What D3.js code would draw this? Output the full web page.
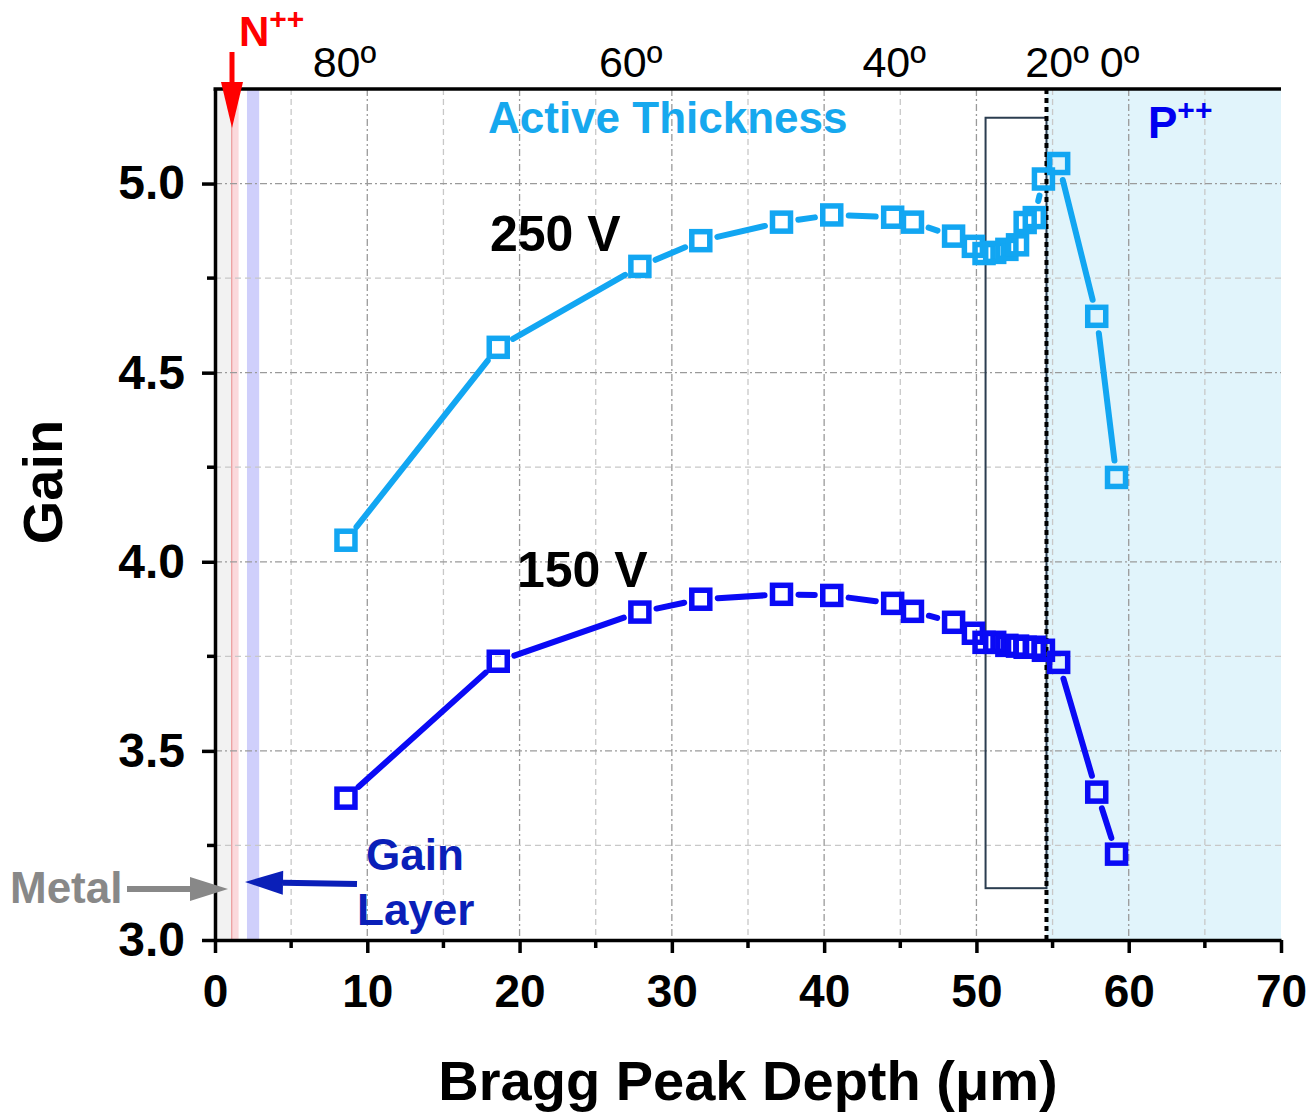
<!DOCTYPE html>
<html>
<head>
<meta charset="utf-8">
<script src="https://cdn.jsdelivr.net/npm/d3@7"></script>
<style>
  body { margin: 0; background: #fff; }
  text { font-family: "Liberation Sans", Arial, sans-serif; }
</style>
</head>
<body>
<div id="chart"></div>
<script>
// Bragg peak depth (um), shared by both bias voltages
const depth = [8.6, 18.6, 27.9, 31.9, 37.2, 40.5, 44.5, 45.8, 48.5, 49.8, 50.5, 51.2,
  52.0, 52.7, 53.2, 53.8, 54.4, 55.4, 57.9, 59.2];
const gain250 = [4.057, 4.567, 4.781, 4.849, 4.898, 4.917, 4.911, 4.898, 4.861, 4.834,
  4.815, 4.818, 4.826, 4.838, 4.897, 4.910, 5.012, 5.053, 4.649, 4.223];
const gain150 = [3.375, 3.737, 3.867, 3.901, 3.914, 3.911, 3.890, 3.869, 3.840, 3.811,
  3.787, 3.787, 3.779, 3.777, 3.774, 3.774, 3.766, 3.734, 3.391, 3.227];

// Top axis: incidence angle labels at their depths
const angleLabels = ['80º', '60º', '40º', '20º', '0º'];
const angleDepth = [8.5, 27.3, 44.6, 55.3, 59.4];

const xTicks = [0, 10, 20, 30, 40, 50, 60, 70];
const yTicks = [3.0, 3.5, 4.0, 4.5, 5.0];

// Layer regions (um)
const metalBand = [0, 1.1];
const nppBand = [1.1, 1.55];
const gainBand = [2.1, 2.9];
const activeEnd = 54.6;
const boxDepth = [50.6, 54.6];
const boxGain = [3.137, 5.174];

const width = 1311;
const height = 1113;

const svg = d3.select('#chart')
  .append('svg')
  .attr('width', width)
  .attr('height', height);

const x = d3.scaleLinear().domain([0, 70]).range([215, 1281]);
const y = d3.scaleLinear().domain([3, 5.25]).range([940, 89]);

// Background regions
const band = (range, color) => svg.append('rect')
  .attr('x', x(range[0])).attr('y', y(5.25))
  .attr('width', x(range[1]) - x(range[0])).attr('height', y(3) - y(5.25))
  .style('fill', color);
band([activeEnd, 70], '#e1f4fb');
band(metalBand, '#f2f2f2');
band(nppBand, '#fbd9dc');
band(gainBand, '#cfcffb');
svg.append('line')
  .attr('x1', x(nppBand[0])).attr('x2', x(nppBand[0]))
  .attr('y1', y(5.25)).attr('y2', y(3))
  .style('stroke', '#e88a8a').style('stroke-width', 1);

// Grid
const grid = svg.append('g').classed('grid', true);
d3.range(5, 70, 5).forEach(v => {
  const major = v % 10 === 0;
  grid.append('line')
    .attr('x1', x(v)).attr('x2', x(v))
    .attr('y1', y(5.25)).attr('y2', y(3))
    .style('stroke', major ? '#9a9a9a' : '#c8c8c8')
    .style('stroke-width', 1.3)
    .style('stroke-dasharray', major ? '7 3 2 3' : '6 4');
});
d3.range(3.25, 5.25, 0.25).forEach(v => {
  const major = Math.abs(v * 2 - Math.round(v * 2)) < 1e-6;
  grid.append('line')
    .attr('x1', x(0)).attr('x2', x(70))
    .attr('y1', y(v)).attr('y2', y(v))
    .style('stroke', major ? '#9a9a9a' : '#c8c8c8')
    .style('stroke-width', 1.3)
    .style('stroke-dasharray', major ? '7 3 2 3' : '6 4');
});

// Active thickness box and boundary
svg.append('rect')
  .attr('x', x(boxDepth[0])).attr('y', y(boxGain[1]))
  .attr('width', x(boxDepth[1]) - x(boxDepth[0]))
  .attr('height', y(boxGain[0]) - y(boxGain[1]))
  .style('fill', 'none')
  .style('stroke', '#2b3d50')
  .style('stroke-width', 2);
svg.append('line')
  .attr('x1', x(activeEnd)).attr('x2', x(activeEnd))
  .attr('y1', y(5.25)).attr('y2', y(3))
  .style('stroke', '#000')
  .style('stroke-width', 4)
  .style('stroke-dasharray', '5 4');

// Series: lines with gaps around markers, open square markers
const drawSeries = (vals, color) => {
  const pts = depth.map((d, i) => [x(d), y(vals[i])]);
  const g = svg.append('g');
  const gap = 17;
  for (let i = 0; i < pts.length - 1; i++) {
    const [x1, y1] = pts[i];
    const [x2, y2] = pts[i + 1];
    const len = Math.hypot(x2 - x1, y2 - y1);
    if (len <= 2 * gap + 1) continue;
    const ux = (x2 - x1) / len;
    const uy = (y2 - y1) / len;
    g.append('line')
      .attr('x1', x1 + ux * gap).attr('y1', y1 + uy * gap)
      .attr('x2', x2 - ux * gap).attr('y2', y2 - uy * gap)
      .style('stroke', color)
      .style('stroke-width', 6)
      .style('stroke-linecap', 'round');
  }
  g.selectAll('rect')
    .data(vals)
    .enter()
    .append('rect')
    .attr('x', (d, i) => x(depth[i]) - 9)
    .attr('y', d => y(d) - 9)
    .attr('width', 18)
    .attr('height', 18)
    .style('fill', 'none')
    .style('stroke', color)
    .style('stroke-width', 5.5);
};
drawSeries(gain250, '#12a6f2');
drawSeries(gain150, '#0a0af5');

// Axes
const font = '"Liberation Sans", Arial, sans-serif';
const xAxis = svg.append('g')
  .attr('transform', `translate(0, ${y(3)})`)
  .call(d3.axisBottom(x).tickValues(xTicks).tickSize(13).tickSizeOuter(0).tickPadding(21)
    .tickFormat(d3.format('d')));
xAxis.select('.domain').style('stroke-width', 3.5);
xAxis.selectAll('.tick line').style('stroke-width', 3.5);
xAxis.selectAll('text')
  .style('font-family', font).style('font-size', '46px').style('font-weight', 'bold')
  .attr('fill', '#000');
svg.append('g')
  .attr('transform', `translate(0, ${y(3)})`)
  .selectAll('line')
  .data(d3.range(5, 70, 10))
  .enter()
  .append('line')
  .attr('x1', d => x(d)).attr('x2', d => x(d))
  .attr('y1', 0).attr('y2', 8)
  .style('stroke', '#000').style('stroke-width', 3.5);

const yAxis = svg.append('g')
  .attr('transform', `translate(${x(0)}, 0)`)
  .call(d3.axisLeft(y).tickValues(yTicks).tickSize(13).tickSizeOuter(0).tickPadding(17)
    .tickFormat(d3.format('.1f')));
yAxis.select('.domain').style('stroke-width', 3.5);
yAxis.selectAll('.tick line').style('stroke-width', 3.5);
yAxis.selectAll('text')
  .style('font-family', font).style('font-size', '48px').style('font-weight', 'bold')
  .attr('fill', '#000');
svg.append('g')
  .attr('transform', `translate(${x(0)}, 0)`)
  .selectAll('line')
  .data(d3.range(3.25, 5.25, 0.5))
  .enter()
  .append('line')
  .attr('x1', -8).attr('x2', 0)
  .attr('y1', d => y(d)).attr('y2', d => y(d))
  .style('stroke', '#000').style('stroke-width', 3.5);

// Top frame line
svg.append('line')
  .attr('x1', x(0) - 1.5).attr('x2', x(70))
  .attr('y1', y(5.25)).attr('y2', y(5.25))
  .style('stroke', '#000').style('stroke-width', 3.5);

// Top angle labels
svg.append('g')
  .selectAll('text')
  .data(angleLabels)
  .enter()
  .append('text')
  .text(d => d)
  .attr('x', (d, i) => x(angleDepth[i]))
  .attr('y', 77)
  .style('text-anchor', 'middle')
  .style('font-size', '43px');

// Axis titles
svg.append('text')
  .text('Bragg Peak Depth (μm)')
  .attr('x', 748).attr('y', 1100)
  .style('text-anchor', 'middle')
  .style('font-size', '56px').style('font-weight', 'bold');
svg.append('text')
  .text('Gain')
  .attr('transform', 'translate(62, 482) rotate(-90)')
  .style('text-anchor', 'middle')
  .style('font-size', '56px').style('font-weight', 'bold');

// Annotations
const label = (t, px, py, size, color, weight) => svg.append('text')
  .text(t).attr('x', px).attr('y', py)
  .style('font-size', size + 'px').style('font-weight', weight || 'bold')
  .style('fill', color);

label('250 V', 490, 251, 50, '#000');
label('150 V', 517, 587, 50, '#000');
label('Active Thickness', 488, 133, 44, '#16a8ee');

const ppp = label('P', 1148, 138, 44, '#0000f0');
ppp.append('tspan').text('++').attr('dy', -18).style('font-size', '30px');

const npp = label('N', 239, 46, 42, '#ff0000');
npp.append('tspan').text('++').attr('dy', -17).style('font-size', '30px');

label('Gain', 366, 870, 44, '#0a1fb8');
label('Layer', 357, 925, 44, '#0a1fb8');
label('Metal', 10, 903, 44, '#888888');

// Arrows
const arrow = (x1, y1, x2, y2, color, w, head, hw) => {
  const len = Math.hypot(x2 - x1, y2 - y1);
  const ux = (x2 - x1) / len;
  const uy = (y2 - y1) / len;
  const bx = x2 - ux * head;
  const by = y2 - uy * head;
  svg.append('line')
    .attr('x1', x1).attr('y1', y1).attr('x2', bx).attr('y2', by)
    .style('stroke', color).style('stroke-width', w);
  svg.append('path')
    .attr('d', `M${x2},${y2} L${bx - uy * hw},${by + ux * hw} L${bx + uy * hw},${by - ux * hw} Z`)
    .style('fill', color);
};
arrow(232, 52, 232, 128, '#ff0000', 5, 46, 11);
arrow(127, 889, 228, 889, '#888888', 6, 38, 12);
arrow(357, 884, 245, 882, '#0a1fb8', 6, 38, 12);
</script>
</body>
</html>
